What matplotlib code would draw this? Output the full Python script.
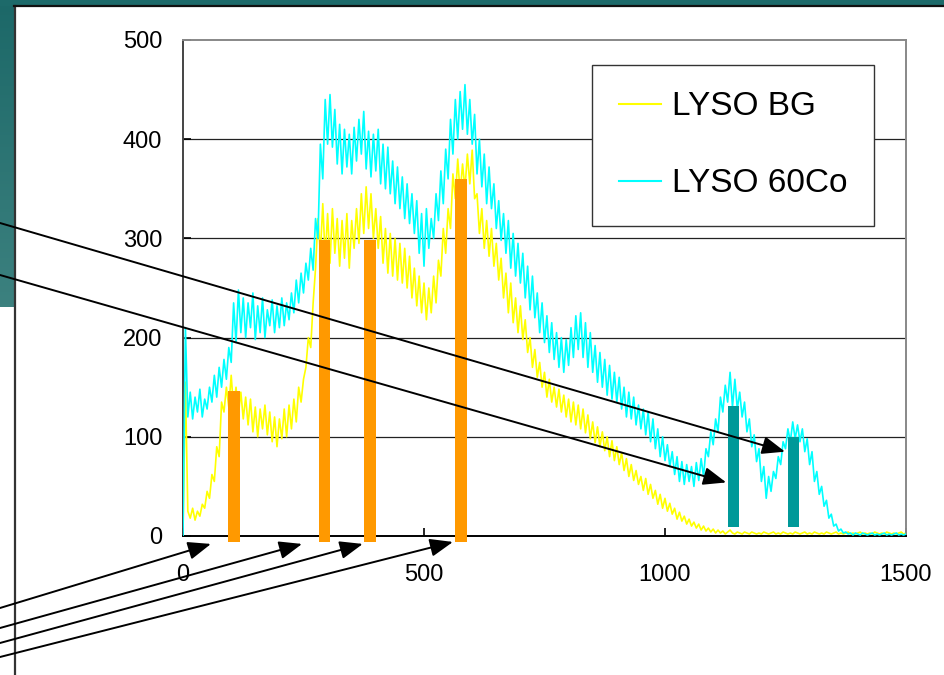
import numpy as np
import matplotlib
matplotlib.use("Agg")
import matplotlib.pyplot as plt
from matplotlib.colors import LinearSegmentedColormap
from matplotlib.patches import Rectangle

plt.rcParams['font.family'] = ['Liberation Sans', 'DejaVu Sans']

# ── Data (channel spectra, every 5 channels) ──────────────────────────────────
channels = np.arange(0, 1505, 5)

lyso_60co = [
    0, 210, 120, 145, 118, 140, 125, 148, 120, 138, 128, 150, 135, 162, 140, 170, 150, 178, 158, 190,
    175, 235, 195, 248, 205, 240, 200, 235, 210, 245, 198, 232, 205, 240, 200, 228, 212, 238, 205, 232,
    210, 240, 212, 235, 218, 245, 225, 258, 235, 265, 245, 275, 258, 290, 268, 320, 300, 395, 360, 440,
    395, 445, 392, 430, 375, 415, 365, 410, 372, 405, 365, 412, 378, 420, 385, 428, 370, 408, 362, 405,
    368, 410, 355, 395, 350, 392, 345, 378, 335, 372, 330, 362, 320, 355, 315, 345, 305, 338, 285, 325,
    272, 330, 290, 320, 300, 345, 318, 368, 335, 390, 360, 420, 385, 440, 400, 448, 410, 455, 405, 440,
    395, 425, 365, 400, 352, 385, 335, 372, 330, 355, 310, 338, 298, 325, 285, 318, 270, 305, 262, 295,
    255, 285, 240, 272, 228, 262, 220, 245, 205, 235, 195, 222, 185, 215, 178, 205, 170, 200, 165, 198,
    172, 210, 180, 222, 188, 225, 180, 215, 170, 205, 165, 192, 155, 185, 150, 178, 142, 172, 138, 165,
    135, 160, 128, 150, 120, 145, 118, 140, 112, 132, 108, 128, 102, 125, 95, 118, 88, 108, 80, 100,
    76, 92, 70, 85, 62, 80, 55, 75, 52, 72, 55, 70, 50, 74, 56, 78, 60, 88, 80, 105,
    92, 118, 105, 140, 125, 152, 135, 165, 130, 158, 128, 145, 120, 135, 105, 118, 90, 102, 75, 88,
    55, 70, 38, 60, 45, 65, 58, 80, 72, 95, 88, 108, 95, 115, 98, 112, 95, 108, 85, 98,
    72, 85, 55, 65, 42, 50, 30, 36, 18, 22, 10, 12, 5, 7, 3, 4, 2, 3, 1, 3,
    2, 1, 3, 2, 1, 2, 3, 1, 2, 1, 2, 3, 1, 2, 1, 2, 3, 1, 2, 1, 2,
]

lyso_bg = [
    0, 155, 25, 18, 28, 16, 25, 20, 32, 28, 45, 38, 62, 55, 90, 80, 135, 125, 150, 130,
    162, 128, 150, 122, 145, 118, 140, 112, 138, 105, 130, 100, 128, 108, 132, 102, 125, 95, 120, 90,
    118, 98, 128, 100, 132, 108, 138, 115, 150, 135, 158, 170, 200, 190, 235, 270, 320, 285, 335, 280,
    325, 275, 330, 285, 320, 272, 318, 280, 325, 270, 318, 290, 330, 295, 345, 305, 352, 310, 345, 300,
    330, 290, 322, 275, 310, 265, 305, 262, 300, 258, 295, 255, 290, 250, 282, 240, 270, 232, 262, 225,
    255, 218, 250, 225, 262, 235, 278, 262, 310, 285, 330, 310, 365, 340, 380, 345, 375, 350, 385, 355,
    389, 340, 345, 305, 330, 290, 318, 282, 310, 272, 295, 258, 280, 240, 265, 225, 255, 215, 240, 205,
    232, 198, 218, 185, 200, 170, 188, 160, 175, 150, 165, 140, 158, 135, 150, 130, 148, 125, 142, 120,
    138, 115, 135, 112, 132, 108, 128, 104, 122, 98, 115, 94, 110, 90, 105, 86, 100, 80, 96, 76,
    90, 72, 84, 66, 78, 60, 72, 56, 66, 52, 60, 46, 58, 42, 52, 38, 46, 32, 42, 28,
    38, 25, 33, 22, 28, 17, 24, 15, 20, 12, 17, 10, 14, 8, 12, 6, 10, 5, 8, 4,
    7, 3, 6, 3, 5, 2, 4, 6, 3, 2, 4, 3, 2, 4, 3, 2, 4, 3, 2, 3,
    2, 4, 3, 2, 3, 4, 2, 3, 2, 4, 3, 2, 3, 2, 4, 3, 2, 3, 4, 2,
    3, 2, 4, 3, 2, 3, 2, 4, 3, 2, 3, 4, 2, 3, 2, 3, 4, 2, 3, 2,
    3, 4, 2, 3, 2, 3, 2, 4, 3, 2, 3, 2, 4, 3, 2, 3, 2, 3, 4, 2, 3,
]

# marker bars
orange_ch = [106, 294, 388, 577]
orange_top = [146, 298, 298, 360]
teal_ch = [1142, 1267]
teal_top = [131, 100]

x_ticks = [0, 500, 1000, 1500]
y_ticks = [0, 100, 200, 300, 400, 500]

# arrows: (target channel, target count, tail height in figure pixels from bottom)
arrow_tips_ch = [1249, 1127, 58, 247, 373, 560]
arrow_tips_y = [85, 54, -8, -8, -8, -6]
arrow_tail_py = [452, 400, 67, 47, 32, 18]

# ── Palette ───────────────────────────────────────────────────────────────────
YELLOW = "#FFFF00"
CYAN = "#00FFFF"
ORANGE = "#FF9900"
TEAL_BAR = "#009999"

# ── Figure + slide background ────────────────────────────────────────────────
fig = plt.figure(figsize=(9.45, 6.75), dpi=100)
fig.patch.set_facecolor("white")

bg = fig.add_axes([0, 0, 1, 1], zorder=-1)
slide = LinearSegmentedColormap.from_list("slide", ["#1C6868", "#3C817F"])
bg.imshow(np.linspace(0, 1, 100).reshape(-1, 1), cmap=slide,
          extent=(0, 14, 307, 0), aspect="auto")
bg.add_patch(Rectangle((0, 0), 945, 6, color="#1D6A6A", lw=0))
bg.plot([14.5, 14.5], [6, 675], color="#333333", lw=1.6)
bg.plot([14, 945], [6, 6], color="#111111", lw=1.6)
bg.set_xlim(0, 945)
bg.set_ylim(675, 0)
bg.axis("off")

# ── Main chart ────────────────────────────────────────────────────────────────
ax = fig.add_axes([183 / 945, (675 - 536) / 675, 723 / 945, 496 / 675])
ax.set_facecolor("white")

ax.plot(channels, lyso_bg, color=YELLOW, lw=1.2, label="LYSO BG", zorder=2)
ax.plot(channels, lyso_60co, color=CYAN, lw=1.2, label="LYSO 60Co", zorder=3)

ax.bar(orange_ch, np.array(orange_top) + 6, bottom=-6, width=24,
       color=ORANGE, zorder=4, clip_on=False)
ax.bar(teal_ch, np.array(teal_top) - 9, bottom=9, width=24,
       color=TEAL_BAR, zorder=4, clip_on=False)

ax.set_xlim(0, 1500)
ax.set_ylim(0, 500)
ax.set_xticks(x_ticks)
ax.set_yticks(y_ticks)
ax.tick_params(axis="both", direction="in", length=6, width=1.2,
               labelsize=17, colors="black")
ax.tick_params(axis="y", pad=15)
ax.tick_params(axis="x", pad=20)

for yv in y_ticks[1:-1]:
    ax.axhline(yv, color="#222222", lw=0.9, zorder=1)

ax.spines["top"].set_color("#888888")
ax.spines["right"].set_color("#888888")
ax.spines["left"].set_color("#444444")
ax.spines["bottom"].set_color("black")
for sp in ax.spines.values():
    sp.set_linewidth(1.4)

leg = ax.legend(loc="upper left", bbox_to_anchor=(0.566, 0.95),
                fontsize=24, frameon=True, fancybox=False, framealpha=1,
                edgecolor="#333333", handlelength=1.25, handletextpad=0.35,
                labelspacing=1.38, borderpad=0.8, borderaxespad=0)
leg.get_frame().set_linewidth(1.0)
for line in leg.get_lines():
    line.set_linewidth(1.5)

# ── Arrows ────────────────────────────────────────────────────────────────────
for cx, cy, ty in zip(arrow_tips_ch, arrow_tips_y, arrow_tail_py):
    ax.annotate("", xy=(cx, cy), xycoords="data",
                xytext=(0, ty), textcoords="figure pixels",
                arrowprops=dict(arrowstyle="-|>,head_length=1.4,head_width=0.55",
                                mutation_scale=10, color="black", lw=1.4,
                                shrinkA=0, shrinkB=0),
                annotation_clip=False, zorder=6)

fig.savefig("out.png", dpi=100)
